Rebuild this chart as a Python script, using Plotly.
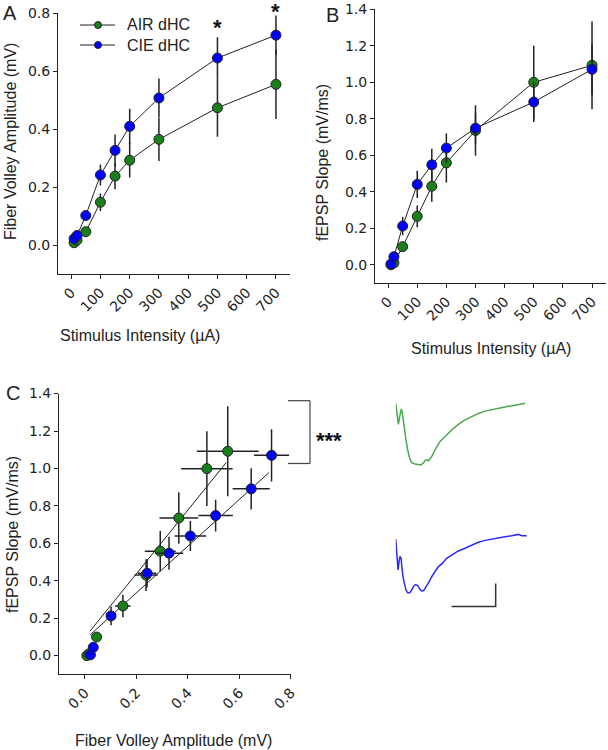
import plotly.graph_objects as go

W, H = 608, 750
FONT = "Arial, Liberation Sans, sans-serif"
TICKFONT = "DejaVu Sans, Verdana, sans-serif"
INK = "#222222"
GREEN = "#1a7f1a"
BLUE = "#0000ff"

def px(x):
    return x / W

def py(y):
    return 1 - y / H

# ---------------- data ----------------
stim = [10, 20, 50, 100, 150, 200, 300, 500, 700]
stim_ticks = [0, 100, 200, 300, 400, 500, 600, 700]
fv_ticks = [0.0, 0.2, 0.4, 0.6, 0.8]
slope_ticks = [0.0, 0.2, 0.4, 0.6, 0.8, 1.0, 1.2, 1.4]

fv_air = [0.008, 0.017, 0.046, 0.148, 0.238, 0.293, 0.365, 0.474, 0.555]
fv_air_err = [0.005, 0.005, 0.01, 0.03, 0.045, 0.06, 0.075, 0.10, 0.12]
fv_cie = [0.022, 0.033, 0.102, 0.242, 0.327, 0.41, 0.508, 0.646, 0.725]
fv_cie_err = [0.005, 0.008, 0.012, 0.036, 0.055, 0.061, 0.067, 0.072, 0.068]

slope_air = [0.0, 0.01, 0.099, 0.265, 0.43, 0.558, 0.735, 0.999, 1.092]
slope_air_err = [0.005, 0.008, 0.02, 0.06, 0.085, 0.108, 0.138, 0.2, 0.24]
slope_cie = [0.004, 0.044, 0.212, 0.44, 0.547, 0.639, 0.748, 0.891, 1.07]
slope_cie_err = [0.005, 0.01, 0.05, 0.075, 0.088, 0.08, 0.085, 0.11, 0.14]

# regression lines in panel C (endpoints)
fit_air_x = [0.02, 0.549]
fit_air_y = [0.13, 1.031]
fit_cie_x = [0.02, 0.715]
fit_cie_y = [0.11, 0.978]

# example traces (ms, mV)
air_t = [0.00, 0.15, 0.30, 0.49, 0.64, 0.76, 0.91, 1.14, 1.36, 1.59, 1.82, 2.20, 2.58, 2.88,
         3.14, 3.33, 3.52, 3.71, 4.09, 4.47, 5.04, 5.61, 6.36, 7.12, 7.88, 8.64, 9.39, 10.15,
         11.29, 12.42, 13.56, 14.70]
air_v = [0.00, -0.25, -0.46, -0.25, -0.12, -0.22, -0.47, -0.76, -1.01, -1.20, -1.29, -1.32,
         -1.33, -1.34, -1.30, -1.25, -1.23, -1.25, -1.16, -1.01, -0.83, -0.72, -0.58, -0.46,
         -0.36, -0.29, -0.22, -0.17, -0.12, -0.08, -0.04, 0.00]
cie_t = [0.00, 0.08, 0.15, 0.27, 0.38, 0.49, 0.61, 0.68, 0.80, 0.98, 1.17, 1.36, 1.59, 1.82,
         2.05, 2.27, 2.50, 2.73, 2.95, 3.18, 3.48, 3.79, 4.09, 4.47, 4.85, 5.30, 5.79, 6.36,
         7.12, 7.88, 8.64, 9.39, 10.15, 10.91, 11.67, 12.42, 13.18, 13.94, 14.32, 14.89]
cie_v = [0.00, -0.20, -0.49, -0.67, -0.49, -0.38, -0.42, -0.57, -0.78, -0.96, -1.11, -1.17,
         -1.17, -1.11, -1.02, -0.99, -1.01, -1.09, -1.13, -1.12, -1.04, -0.93, -0.82, -0.71,
         -0.60, -0.53, -0.42, -0.35, -0.26, -0.20, -0.14, -0.07, -0.03, 0.00, 0.03, 0.05,
         0.07, 0.10, 0.07, 0.07]
scalebar_t = [6.36, 11.36, 11.36]
scalebar_v = [-1.47, -1.47, -0.97]

# ---------------- figure ----------------
fig = go.Figure()

def err(vals):
    return dict(type="data", array=vals, visible=True, color=INK, thickness=1.5, width=0)

def pts(x, y, ex, ey, color, name, xa, ya, mode="lines+markers"):
    tr = dict(x=x, y=y, mode=mode, name=name, showlegend=False,
              line=dict(color=INK, width=1),
              marker=dict(size=10, color=color, line=dict(color=INK, width=1)),
              error_y=err(ey), xaxis=xa, yaxis=ya)
    if ex is not None:
        tr["error_x"] = err(ex)
    return go.Scatter(**tr)

# Panel A
fig.add_trace(pts(stim, fv_air, None, fv_air_err, GREEN, "AIR dHC", "x", "y"))
fig.add_trace(pts(stim, fv_cie, None, fv_cie_err, BLUE, "CIE dHC", "x", "y"))
# Panel B
fig.add_trace(pts(stim, slope_air, None, slope_air_err, GREEN, "AIR dHC", "x2", "y2"))
fig.add_trace(pts(stim, slope_cie, None, slope_cie_err, BLUE, "CIE dHC", "x2", "y2"))
# Panel C
fig.add_trace(go.Scatter(x=fit_air_x, y=fit_air_y, mode="lines", line=dict(color=INK, width=1),
                         showlegend=False, xaxis="x3", yaxis="y3"))
fig.add_trace(go.Scatter(x=fit_cie_x, y=fit_cie_y, mode="lines", line=dict(color=INK, width=1),
                         showlegend=False, xaxis="x3", yaxis="y3"))
fig.add_trace(pts(fv_air, slope_air, fv_air_err, slope_air_err, GREEN, "AIR dHC", "x3", "y3", "markers"))
fig.add_trace(pts(fv_cie, slope_cie, fv_cie_err, slope_cie_err, BLUE, "CIE dHC", "x3", "y3", "markers"))

# example traces
fig.add_trace(go.Scatter(x=air_t, y=air_v, mode="lines", line=dict(color="#4aa84a", width=1.5),
                         showlegend=False, xaxis="x4", yaxis="y4"))
fig.add_trace(go.Scatter(x=cie_t, y=cie_v, mode="lines", line=dict(color="#2a2aff", width=1.5),
                         showlegend=False, xaxis="x5", yaxis="y5"))
fig.add_trace(go.Scatter(x=scalebar_t, y=scalebar_v, mode="lines", line=dict(color="#333333", width=1.5),
                         showlegend=False, xaxis="x5", yaxis="y5"))

tickfont = dict(family=TICKFONT, size=14, color=INK)
axcommon = dict(showline=True, linecolor=INK, linewidth=1, ticks="outside", ticklen=4,
                tickwidth=1, tickcolor=INK, showgrid=False, zeroline=False, tickfont=tickfont,
                automargin=False)

hidden = dict(visible=False, showgrid=False, zeroline=False, automargin=False)

fig.update_layout(
    width=W, height=H, margin=dict(l=0, r=0, t=0, b=0, autoexpand=False),
    paper_bgcolor="white", plot_bgcolor="white", showlegend=False,
    font=dict(family=FONT, color=INK),
    xaxis=dict(domain=[px(58), px(290)], range=[-45, 748], anchor="y",
               tickvals=stim_ticks, tickangle=-45, **axcommon),
    yaxis=dict(domain=[py(274), py(13.3)], range=[-0.1, 0.8005], anchor="x",
               tickvals=fv_ticks, tickformat=".1f", **axcommon),
    xaxis2=dict(domain=[px(375), px(606)], range=[-45, 748], anchor="y2",
                tickvals=stim_ticks, tickangle=-45, **axcommon),
    yaxis2=dict(domain=[py(283), py(9)], range=[-0.1, 1.4005], anchor="x2",
                tickvals=slope_ticks, tickformat=".1f", **axcommon),
    xaxis3=dict(domain=[px(59), px(291)], range=[-0.1, 0.8005], anchor="y3",
                tickvals=fv_ticks, tickformat=".1f", tickangle=-45, **axcommon),
    yaxis3=dict(domain=[py(674.3), py(393.5)], range=[-0.1, 1.4005], anchor="x3",
                tickvals=slope_ticks, tickformat=".1f", **axcommon),
    xaxis4=dict(domain=[px(395.7), px(395.7 + 16 * 8.8)], range=[0, 16], anchor="y4", **hidden),
    yaxis4=dict(domain=[py(403.3 + 1.6 * 46), py(403.3 - 0.3 * 46)], range=[-1.6, 0.3], anchor="x4", **hidden),
    xaxis5=dict(domain=[px(395.7), px(395.7 + 16 * 8.8)], range=[0, 16], anchor="y5", **hidden),
    yaxis5=dict(domain=[py(539 + 1.6 * 46), py(539 - 0.3 * 46)], range=[-1.6, 0.3], anchor="x5", **hidden),
)

ann = []
def text(x, y, s, size=16, angle=0, xanchor="center", yanchor="middle"):
    ann.append(dict(x=px(x), y=py(y), xref="paper", yref="paper", text=s,
                    showarrow=False, textangle=angle, xanchor=xanchor, yanchor=yanchor,
                    font=dict(family=FONT, size=size, color=INK)))

# axis titles
text(140, 336, "Stimulus Intensity (µA)")
text(10, 142, "Fiber Volley Amplitude (mV)", angle=-90)
text(491, 348, "Stimulus Intensity (µA)")
text(322, 163, "fEPSP Slope (mV/ms)", angle=-90)
text(174, 740, "Fiber Volley Amplitude (mV)")
text(12, 535, "fEPSP Slope (mV/ms)", angle=-90)
# panel letters
text(10, 13, "A", size=20)
text(332, 15, "B", size=20)
text(13, 393, "C", size=20)
# significance
ann.append(dict(x=500, y=py(28), xref="x", yref="paper", text="<b>*</b>", showarrow=False,
                font=dict(family=FONT, size=22, color="#111111"), yanchor="middle"))
ann.append(dict(x=700, y=py(11), xref="x", yref="paper", text="<b>*</b>", showarrow=False,
                font=dict(family=FONT, size=22, color="#111111"), yanchor="middle"))
ann.append(dict(x=px(314), y=py(440), xref="paper", yref="paper", text="<b>***</b>", showarrow=False,
                xanchor="left", yanchor="middle", font=dict(family=FONT, size=22, color="#111111")))
# legend text
text(125, 25, "AIR dHC", xanchor="left")
text(125, 45, "CIE dHC", xanchor="left")

shapes = []
def seg(x0, y0, x1, y1, color=INK, w=1):
    shapes.append(dict(type="line", xref="paper", yref="paper", x0=px(x0), y0=py(y0),
                       x1=px(x1), y1=py(y1), line=dict(color=color, width=w)))

def dot(cx, cy, r, color):
    shapes.append(dict(type="circle", xref="paper", yref="paper", x0=px(cx - r), x1=px(cx + r),
                       y0=py(cy + r), y1=py(cy - r), fillcolor=color, line=dict(color=INK, width=1)))

seg(80, 25, 115, 25)
seg(80, 45, 115, 45)
dot(98, 25, 3.5, GREEN)
dot(98, 45, 3.5, BLUE)
# bracket
seg(288, 400.7, 310, 400.7, "#444444", 1.2)
seg(310, 400.7, 310, 463.5, "#444444", 1.2)
seg(288, 463.5, 310, 463.5, "#444444", 1.2)

fig.update_layout(annotations=ann, shapes=shapes)
fig.write_html("out.html", config={"displayModeBar": False},
               post_script="document.documentElement.style.margin='0';document.body.style.margin='0';"
                           "document.body.style.overflow='hidden';")
